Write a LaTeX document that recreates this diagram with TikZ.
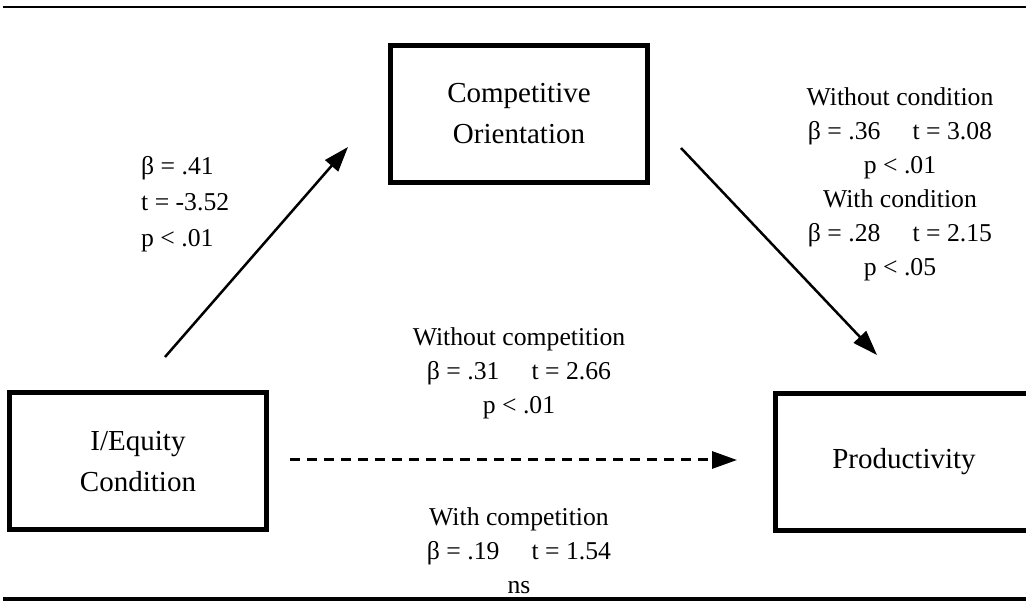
\documentclass[tikz,border=0pt]{standalone}
\usepackage{fontspec}
\setmainfont{Liberation Serif}
\usetikzlibrary{arrows.meta}
\tikzset{
    varbox/.style={draw, line width=5pt, inner sep=0pt, minimum width=257pt,
        minimum height=137pt, align=center, font={\fontsize{29}{41}\selectfont}},
    stat/.style={align=center, inner sep=0pt, font={\fontsize{25.7}{34}\selectfont}},
    path arrow/.style={line width=2.5pt, -{Triangle[length=25pt,width=17pt]}},
    rule/.style={line width=#1}
}
\newcommand{\btgap}{\hspace{1.25em}}
\begin{document}
\begin{tikzpicture}[x=1pt,y=1pt]
    \useasboundingbox (0,0) rectangle (1026,605);
    \clip (0,0) rectangle (1026,605);
    % rules above and below
    \draw[rule=2.5pt] (3,598) -- (1026,598);
    \draw[rule=4.5pt] (3,6) -- (1026,6);
    % variables
    \node[varbox] (comp) at (519,491) {Competitive\\Orientation};
    \node[varbox] (equity) at (138,143.5) {I/Equity\\Condition};
    \node[varbox, text width=247pt] (prod) at (904,143) {Productivity};
    % free ends of the paths
    \coordinate (a1) at (165,248);
    \coordinate (b1) at (348,458);
    \coordinate (a2) at (681,457);
    \coordinate (b2) at (877,250);
    \coordinate (a3) at (290,145);
    \coordinate (b3) at (737,145);
    \draw[path arrow] (a1) -- (b1);
    \draw[path arrow] (a2) -- (b2);
    \draw[path arrow, line width=3pt, dash pattern=on 10pt off 7pt] (a3) -- (b3);
    % coefficients
    \node[stat, anchor=west, align=left, font={\fontsize{25.7}{36}\selectfont}] (s1) at (141,400.5)
        {β = .41\\t = -3.52\\p < .01};
    \node[stat] (s2) at (900,421)
        {Without condition\\β = .36\btgap t = 3.08\\p < .01\\With condition\\β = .28\btgap t = 2.15\\p < .05};
    \node[stat] (s3) at (519,232)
        {Without competition\\β = .31\btgap t = 2.66\\p < .01};
    \node[stat] (s4) at (519,54)
        {With competition\\β = .19\btgap t = 1.54\\ns};
\end{tikzpicture}
\end{document}
